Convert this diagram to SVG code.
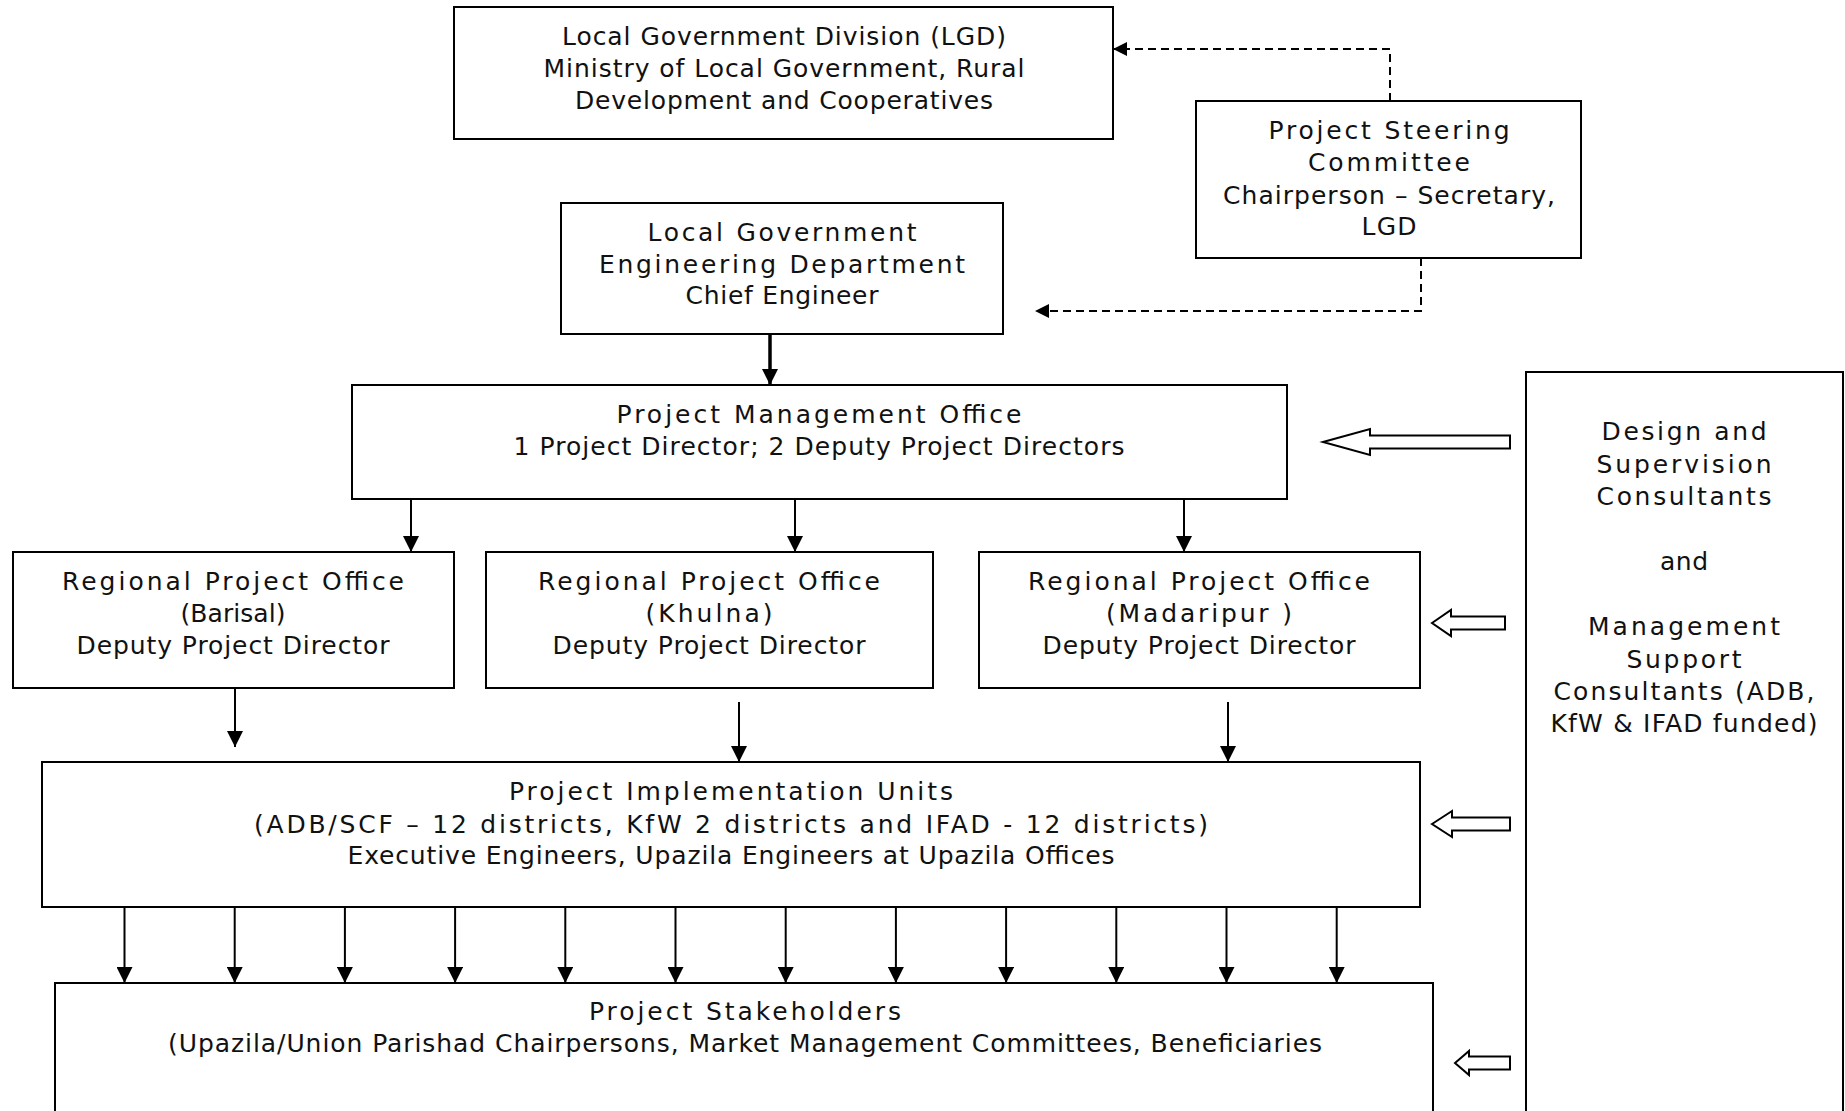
<svg xmlns="http://www.w3.org/2000/svg" width="1845" height="1111" viewBox="0 0 1845 1111">
<style>
.box{fill:#fff;stroke:#000;stroke-width:2}
.t{font-family:"DejaVu Sans","Liberation Sans",sans-serif;font-size:25px;fill:#111;text-anchor:middle}
.c{fill:none;stroke:#000;stroke-width:2}
.d{fill:none;stroke:#000;stroke-width:2;stroke-dasharray:8,5}
.thick{fill:none;stroke:#000;stroke-width:3.5}
.blk{fill:#fff;stroke:#000;stroke-width:2;stroke-linejoin:miter}
</style>
<defs>
<marker id="ah" viewBox="0 0 16 16" refX="16" refY="8" markerWidth="16" markerHeight="16" markerUnits="userSpaceOnUse" orient="auto">
<path d="M0,0 L16,8 L0,16 z" fill="#000"/>
</marker>
<marker id="ahs" viewBox="0 0 14 14" refX="14" refY="7" markerWidth="14" markerHeight="14" markerUnits="userSpaceOnUse" orient="auto">
<path d="M0,0 L14,7 L0,14 z" fill="#000"/>
</marker>
</defs>
<rect width="1845" height="1111" fill="#fff"/>

<g id="connectors">
<path class="d" d="M1390,101 V49 H1113" marker-end="url(#ahs)"/>
<path class="d" d="M1421,258 V311 H1035" marker-end="url(#ahs)"/>
<path class="thick" d="M770,334 V385" marker-end="url(#ah)"/>
<path class="c" d="M411,499 V552" marker-end="url(#ah)"/>
<path class="c" d="M795,499 V552" marker-end="url(#ah)"/>
<path class="c" d="M1184,499 V552" marker-end="url(#ah)"/>
<path class="c" d="M235,688 V747" marker-end="url(#ah)"/>
<path class="c" d="M739,702 V762" marker-end="url(#ah)"/>
<path class="c" d="M1228,702 V762" marker-end="url(#ah)"/>
<path class="c" d="M124.5,907 V983" marker-end="url(#ah)"/>
<path class="c" d="M234.7,907 V983" marker-end="url(#ah)"/>
<path class="c" d="M344.9,907 V983" marker-end="url(#ah)"/>
<path class="c" d="M455.1,907 V983" marker-end="url(#ah)"/>
<path class="c" d="M565.3,907 V983" marker-end="url(#ah)"/>
<path class="c" d="M675.5,907 V983" marker-end="url(#ah)"/>
<path class="c" d="M785.7,907 V983" marker-end="url(#ah)"/>
<path class="c" d="M895.9,907 V983" marker-end="url(#ah)"/>
<path class="c" d="M1006.1,907 V983" marker-end="url(#ah)"/>
<path class="c" d="M1116.3,907 V983" marker-end="url(#ah)"/>
<path class="c" d="M1226.5,907 V983" marker-end="url(#ah)"/>
<path class="c" d="M1336.7,907 V983" marker-end="url(#ah)"/>
<polygon class="blk" points="1323,442 1370,429 1370,435.5 1510,435.5 1510,448.5 1370,448.5 1370,455"/>
<polygon class="blk" points="1432,623 1451,610 1451,616.5 1505,616.5 1505,629.5 1451,629.5 1451,636"/>
<polygon class="blk" points="1432,824 1452,811 1452,817.5 1510,817.5 1510,830.5 1452,830.5 1452,837"/>
<polygon class="blk" points="1455,1063 1469,1051 1469,1056.5 1510,1056.5 1510,1069.5 1469,1069.5 1469,1075"/>
</g>

<g id="lgd">
<rect class="box" x="454" y="7" width="659" height="132"/>
<text class="t" x="784" y="45" textLength="444" lengthAdjust="spacing">Local Government Division (LGD)</text>
<text class="t" x="784" y="77" textLength="481" lengthAdjust="spacing">Ministry of Local Government, Rural</text>
<text class="t" x="784" y="109" textLength="418" lengthAdjust="spacing">Development and Cooperatives</text>
</g>

<g id="psc">
<rect class="box" x="1196" y="101" width="385" height="157"/>
<text class="t" x="1389" y="139" textLength="241" lengthAdjust="spacing">Project Steering</text>
<text class="t" x="1389" y="171" textLength="162" lengthAdjust="spacing">Committee</text>
<text class="t" x="1389" y="204" textLength="332" lengthAdjust="spacing">Chairperson – Secretary,</text>
<text class="t" x="1389" y="235" textLength="55" lengthAdjust="spacing">LGD</text>
</g>

<g id="lged">
<rect class="box" x="561" y="203" width="442" height="131"/>
<text class="t" x="782" y="241" textLength="269" lengthAdjust="spacing">Local Government</text>
<text class="t" x="782" y="273" textLength="366" lengthAdjust="spacing">Engineering Department</text>
<text class="t" x="782" y="304" textLength="193" lengthAdjust="spacing">Chief Engineer</text>
</g>

<g id="pmo">
<rect class="box" x="352" y="385" width="935" height="114"/>
<text class="t" x="819" y="423" textLength="405" lengthAdjust="spacing">Project Management Office</text>
<text class="t" x="819" y="455" textLength="611" lengthAdjust="spacing">1 Project Director;  2 Deputy Project Directors</text>
</g>

<g id="rpo-barisal">
<rect class="box" x="13" y="552" width="441" height="136"/>
<text class="t" x="233" y="590" textLength="342" lengthAdjust="spacing">Regional Project Office</text>
<text class="t" x="233" y="622" textLength="105" lengthAdjust="spacing">(Barisal)</text>
<text class="t" x="233" y="654" textLength="313" lengthAdjust="spacing">Deputy Project Director</text>
</g>

<g id="rpo-khulna">
<rect class="box" x="486" y="552" width="447" height="136"/>
<text class="t" x="709" y="590" textLength="342" lengthAdjust="spacing">Regional Project Office</text>
<text class="t" x="709" y="622" textLength="127" lengthAdjust="spacing">(Khulna)</text>
<text class="t" x="709" y="654" textLength="313" lengthAdjust="spacing">Deputy Project Director</text>
</g>

<g id="rpo-madaripur">
<rect class="box" x="979" y="552" width="441" height="136"/>
<text class="t" x="1199" y="590" textLength="342" lengthAdjust="spacing">Regional Project Office</text>
<text class="t" x="1199" y="622" textLength="186" lengthAdjust="spacing">(Madaripur )</text>
<text class="t" x="1199" y="654" textLength="313" lengthAdjust="spacing">Deputy Project Director</text>
</g>

<g id="piu">
<rect class="box" x="42" y="762" width="1378" height="145"/>
<text class="t" x="731" y="800" textLength="444" lengthAdjust="spacing">Project Implementation Units</text>
<text class="t" x="731" y="833" textLength="954" lengthAdjust="spacing">(ADB/SCF – 12 districts, KfW 2 districts and IFAD - 12 districts)</text>
<text class="t" x="731" y="864" textLength="767" lengthAdjust="spacing">Executive Engineers, Upazila Engineers at Upazila Offices</text>
</g>

<g id="stakeholders">
<rect class="box" x="55" y="983" width="1378" height="140"/>
<text class="t" x="745" y="1020" textLength="312" lengthAdjust="spacing">Project Stakeholders</text>
<text class="t" x="745" y="1052" textLength="1154" lengthAdjust="spacing">(Upazila/Union Parishad Chairpersons, Market Management Committees, Beneficiaries</text>
</g>

<g id="consultants">
<rect class="box" x="1526" y="372" width="317" height="760"/>
<text class="t" x="1684" y="440" textLength="165" lengthAdjust="spacing">Design and</text>
<text class="t" x="1684" y="473" textLength="175" lengthAdjust="spacing">Supervision</text>
<text class="t" x="1684" y="505" textLength="175" lengthAdjust="spacing">Consultants</text>
<text class="t" x="1684" y="570" textLength="48" lengthAdjust="spacing">and</text>
<text class="t" x="1684" y="635" textLength="192" lengthAdjust="spacing">Management</text>
<text class="t" x="1684" y="668" textLength="115" lengthAdjust="spacing">Support</text>
<text class="t" x="1684" y="700" textLength="261" lengthAdjust="spacing">Consultants (ADB,</text>
<text class="t" x="1684" y="732" textLength="267" lengthAdjust="spacing">KfW &amp; IFAD funded)</text>
</g>
</svg>
